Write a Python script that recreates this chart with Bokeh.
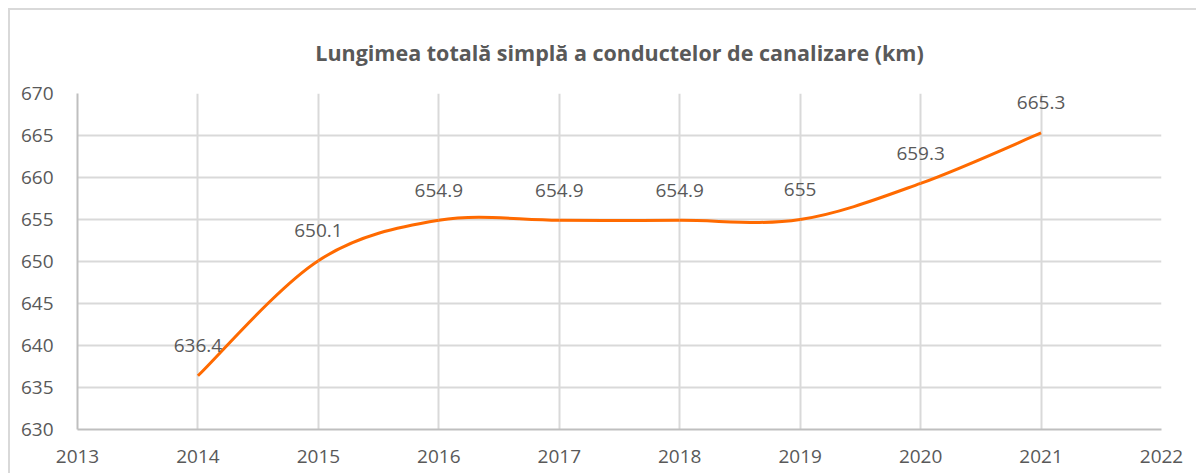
from bokeh.plotting import figure
from bokeh.models import ColumnDataSource, FixedTicker, Title, Range1d
from bokeh.core.properties import value
from bokeh.embed import file_html
from bokeh.resources import INLINE

years = [2014, 2015, 2016, 2017, 2018, 2019, 2020, 2021]
values = [636.4, 650.1, 654.9, 654.9, 654.9, 655.0, 659.3, 665.3]
labels = ["636.4", "650.1", "654.9", "654.9", "654.9", "655", "659.3", "665.3"]
title_text = "Lungimea totală simplă a conductelor de canalizare (km)"

FONT = "Open Sans"
GRAY = "#595959"

p = figure(width=1188, height=465, output_backend="svg", toolbar_location=None,
           x_range=Range1d(2013, 2022), y_range=Range1d(630, 670),
           min_border_left=67, min_border_right=37, min_border_top=83, min_border_bottom=46)
p.styles = {"margin-left": "8px", "margin-top": "8px",
            "border-top": "2px solid #d9d9d9", "border-left": "2px solid #d9d9d9"}
p.outline_line_color = None

t = Title(text=title_text, align="center", vertical_align="top", text_font=FONT,
          text_font_size="21.5px", text_font_style="bold", text_color=GRAY,
          offset=0, standoff=50)
p.title = t

p.xaxis.ticker = FixedTicker(ticks=list(range(2013, 2023)))
p.yaxis.ticker = FixedTicker(ticks=list(range(630, 671, 5)))
for ax in (p.xaxis[0], p.yaxis[0]):
    ax.major_tick_line_color = None
    ax.minor_tick_line_color = None
    ax.axis_line_color = "#bfbfbf"
    ax.axis_line_width = 2
    ax.major_label_text_font = FONT
    ax.major_label_text_font_size = "19px"
    ax.major_label_text_color = GRAY
p.xaxis.major_label_standoff = 14
p.yaxis.major_label_standoff = 18

p.grid.grid_line_color = "#d9d9d9"
p.grid.grid_line_width = 2

# smooth line (Excel-style) via cubic Bezier segments through data points
n = len(years)
x0, y0, x1, y1, cx0, cy0, cx1, cy1 = [], [], [], [], [], [], [], []
for i in range(n - 1):
    pxm = years[i - 1] if i > 0 else years[i]
    pym = values[i - 1] if i > 0 else values[i]
    pxp = years[i + 2] if i + 2 < n else years[i + 1]
    pyp = values[i + 2] if i + 2 < n else values[i + 1]
    x0.append(years[i]); y0.append(values[i])
    x1.append(years[i + 1]); y1.append(values[i + 1])
    cx0.append(years[i] + (years[i + 1] - pxm) / 6)
    cy0.append(values[i] + (values[i + 1] - pym) / 6)
    cx1.append(years[i + 1] - (pxp - years[i]) / 6)
    cy1.append(values[i + 1] - (pyp - values[i]) / 6)
bsrc = ColumnDataSource(dict(x0=x0, y0=y0, x1=x1, y1=y1, cx0=cx0, cy0=cy0, cx1=cx1, cy1=cy1))
p.bezier(x0="x0", y0="y0", x1="x1", y1="y1", cx0="cx0", cy0="cy0", cx1="cx1", cy1="cy1",
         source=bsrc, line_color="#ff6a00", line_width=3)

src = ColumnDataSource(dict(x=years, y=values, t=labels))
p.text(x="x", y="y", text="t", source=src, text_font=value(FONT), text_font_size="19px",
       text_color=GRAY, text_align="center", text_baseline="middle", y_offset=-30)

open("out.html", "w").write(file_html(p, INLINE))
